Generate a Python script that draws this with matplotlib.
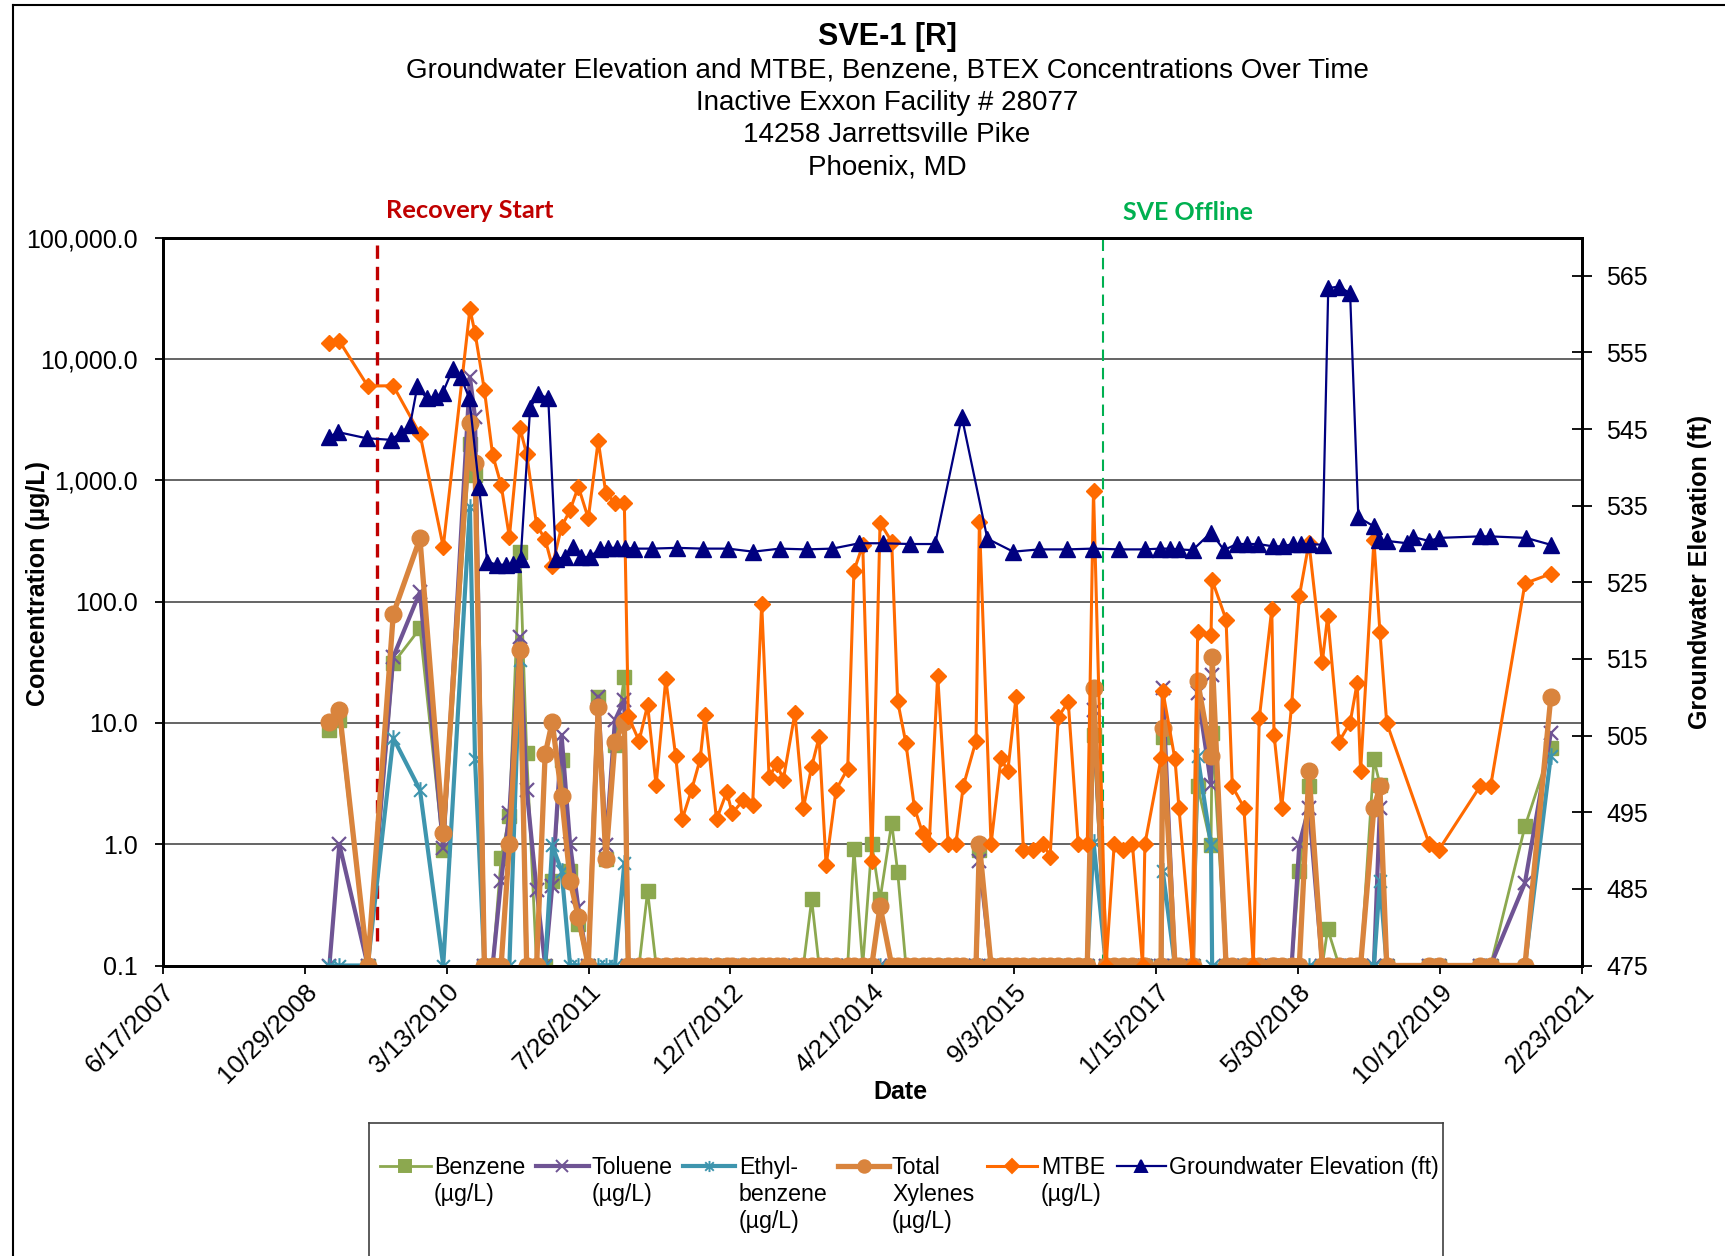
import matplotlib
matplotlib.use('Agg')
import matplotlib.pyplot as plt
import matplotlib.dates as mdates
from matplotlib.path import Path
from matplotlib.lines import Line2D
from matplotlib.ticker import FixedLocator, FuncFormatter
import pandas as pd

plt.rcParams['font.family'] = ['Liberation Sans', 'DejaVu Sans']

# sampling dates shared by the BTEX / MTBE results
sample_dates = [
    '2009-01-24', '2009-02-28', '2009-06-08', '2009-09-06', '2009-12-09', '2010-03-01', '2010-06-03', '2010-06-21', '2010-07-24', '2010-08-22',
    '2010-09-21', '2010-10-20', '2010-11-26', '2010-12-20', '2011-01-24', '2011-02-23', '2011-03-20', '2011-04-22', '2011-05-22', '2011-06-20',
    '2011-07-25', '2011-08-29', '2011-09-25', '2011-10-27', '2011-11-29', '2011-12-13', '2012-01-20', '2012-02-19', '2012-03-20', '2012-04-23',
    '2012-05-28', '2012-06-20', '2012-07-23', '2012-08-22', '2012-09-08', '2012-10-19', '2012-11-24', '2012-12-13', '2013-01-21', '2013-02-23',
    '2013-03-27', '2013-04-22', '2013-05-19', '2013-06-11', '2013-07-22', '2013-08-21', '2013-09-19', '2013-10-15', '2013-11-09', '2013-12-14',
    '2014-01-24', '2014-02-15', '2014-03-18', '2014-04-19', '2014-05-18', '2014-06-28', '2014-07-19', '2014-08-17', '2014-09-16', '2014-10-15',
    '2014-11-07', '2014-12-07', '2015-01-13', '2015-02-09', '2015-03-07', '2015-04-21', '2015-05-03', '2015-06-13', '2015-07-18', '2015-08-11',
    '2015-09-09', '2015-10-05', '2015-11-07', '2015-12-14', '2016-01-07', '2016-02-05', '2016-03-11', '2016-04-15', '2016-05-17', '2016-06-08',
    '2016-07-22', '2016-08-20', '2016-09-19', '2016-10-23', '2016-11-28', '2016-12-06', '2017-02-01', '2017-02-07', '2017-03-22', '2017-04-05',
    '2017-05-23', '2017-06-10', '2017-07-27', '2017-07-31', '2017-09-18', '2017-10-10', '2017-11-20', '2017-12-23', '2018-01-13', '2018-02-26',
    '2018-03-06', '2018-04-02', '2018-05-07', '2018-06-03', '2018-07-07', '2018-08-23', '2018-09-11', '2018-10-21', '2018-11-29', '2018-12-24',
    '2019-01-05', '2019-02-21', '2019-03-14', '2019-04-07', '2019-09-04', '2019-10-08', '2020-03-01', '2020-04-07', '2020-08-06', '2020-11-05',
]

benzene = [
    8.7, 10.5, 0.1, 31, 60, 0.9, 2000, 1100, 0.1, 0.1,
    0.77, 1.7, 257, 5.6, 0.1, 0.1, 0.5, 4.9, 0.6, 0.22,
    0.1, 16.4, 0.76, 6.6, 24, 0.1, 0.1, 0.41, 0.1, 0.1,
    0.1, 0.1, 0.1, 0.1, 0.1, 0.1, 0.1, 0.1, 0.1, 0.1,
    0.1, 0.1, 0.1, 0.1, 0.1, 0.1, 0.35, 0.1, 0.1, 0.1,
    0.1, 0.91, 0.1, 1.0, 0.35, 1.5, 0.59, 0.1, 0.1, 0.1,
    0.1, 0.1, 0.1, 0.1, 0.1, 0.1, 0.9, 0.1, 0.1, 0.1,
    0.1, 0.1, 0.1, 0.1, 0.1, 0.1, 0.1, 0.1, 0.1, 7.9,
    0.1, 0.1, 0.1, 0.1, 0.1, 0.1, 0.1, 7.7, 0.1, 0.1,
    0.1, 3.0, 0.98, 8.2, 0.1, 0.1, 0.1, 0.1, 0.1, 0.1,
    0.1, 0.1, 0.1, 0.6, 3.0, 0.1, 0.2, 0.1, 0.1, 0.1,
    0.1, 5.0, 3.1, 0.1, 0.1, 0.1, 0.1, 0.1, 1.4, 6.2,
]

toluene = [
    0.1, 1.0, 0.1, 35, 120, 0.93, 7100, 3300, 0.1, 0.1,
    0.5, 1.8, 51, 2.8, 0.42, 0.1, 0.45, 7.9, 1.0, 0.3,
    0.1, 16.4, 0.99, 10.5, 15.4, 0.1, 0.1, 0.1, 0.1, 0.1,
    0.1, 0.1, 0.1, 0.1, 0.1, 0.1, 0.1, 0.1, 0.1, 0.1,
    0.1, 0.1, 0.1, 0.1, 0.1, 0.1, 0.1, 0.1, 0.1, 0.1,
    0.1, 0.1, 0.1, 0.1, 0.1, 0.1, 0.1, 0.1, 0.1, 0.1,
    0.1, 0.1, 0.1, 0.1, 0.1, 0.1, 0.72, 0.1, 0.1, 0.1,
    0.1, 0.1, 0.1, 0.1, 0.1, 0.1, 0.1, 0.1, 0.1, 12.8,
    0.1, 0.1, 0.1, 0.1, 0.1, 0.1, 0.1, 19.3, 0.1, 0.1,
    0.1, 17.5, 3.1, 25, 0.1, 0.1, 0.1, 0.1, 0.1, 0.1,
    0.1, 0.1, 0.1, 1.0, 2.0, 0.1, 0.1, 0.1, 0.1, 0.1,
    0.1, 0.1, 2.0, 0.1, 0.1, 0.1, 0.1, 0.1, 0.48, 8.2,
]

ethylbenzene = [
    0.1, 0.1, 0.1, 7.5, 2.8, 0.1, 600, 5, 0.1, 0.1,
    0.1, 0.1, 33, 0.1, 0.1, 0.1, 0.98, 0.6, 0.1, 0.1,
    0.1, 0.1, 0.1, 0.1, 0.7, 0.1, 0.1, 0.1, 0.1, 0.1,
    0.1, 0.1, 0.1, 0.1, 0.1, 0.1, 0.1, 0.1, 0.1, 0.1,
    0.1, 0.1, 0.1, 0.1, 0.1, 0.1, 0.1, 0.1, 0.1, 0.1,
    0.1, 0.1, 0.1, 0.1, 0.1, 0.1, 0.1, 0.1, 0.1, 0.1,
    0.1, 0.1, 0.1, 0.1, 0.1, 0.1, 0.1, 0.1, 0.1, 0.1,
    0.1, 0.1, 0.1, 0.1, 0.1, 0.1, 0.1, 0.1, 0.1, 1.05,
    0.1, 0.1, 0.1, 0.1, 0.1, 0.1, 0.1, 0.6, 0.1, 0.1,
    0.1, 5.3, 0.98, 0.1, 0.1, 0.1, 0.1, 0.1, 0.1, 0.1,
    0.1, 0.1, 0.1, 0.1, 0.1, 0.1, 0.1, 0.1, 0.1, 0.1,
    0.1, 0.1, 0.5, 0.1, 0.1, 0.1, 0.1, 0.1, 0.1, 5.3,
]

xylenes = [
    10.2, 12.8, 0.1, 79, 331, 1.23, 2960, 1380, 0.1, 0.1,
    0.1, 1.0, 40, 0.1, 0.1, 5.5, 10.2, 2.5, 0.5, 0.25,
    0.1, 13.4, 0.75, 7.0, 10.2, 0.1, 0.1, 0.1, 0.1, 0.1,
    0.1, 0.1, 0.1, 0.1, 0.1, 0.1, 0.1, 0.1, 0.1, 0.1,
    0.1, 0.1, 0.1, 0.1, 0.1, 0.1, 0.1, 0.1, 0.1, 0.1,
    0.1, 0.1, 0.1, 0.1, 0.31, 0.1, 0.1, 0.1, 0.1, 0.1,
    0.1, 0.1, 0.1, 0.1, 0.1, 0.1, 1.0, 0.1, 0.1, 0.1,
    0.1, 0.1, 0.1, 0.1, 0.1, 0.1, 0.1, 0.1, 0.1, 19.3,
    0.1, 0.1, 0.1, 0.1, 0.1, 0.1, 0.1, 9.0, 0.1, 0.1,
    0.1, 22, 5.3, 35, 0.1, 0.1, 0.1, 0.1, 0.1, 0.1,
    0.1, 0.1, 0.1, 0.1, 4.0, 0.1, 0.1, 0.1, 0.1, 0.1,
    0.1, 2.0, 3.0, 0.1, 0.1, 0.1, 0.1, 0.1, 0.1, 16.2,
]

mtbe = [
    13600, 14000, 5970, 6000, 2400, 282, 25700, 16400, 5530, 1620,
    912, 341, 2700, 1640, 427, 326, 196, 414, 567, 884,
    485, 2110, 780, 653, 645, 11.3, 7.1, 14, 3.07, 22.9,
    5.3, 1.61, 2.8, 5.0, 11.6, 1.6, 2.7, 1.8, 2.3, 2.1,
    95.5, 3.56, 4.6, 3.4, 12, 2.0, 4.35, 7.6, 0.67, 2.8,
    4.2, 179, 292, 0.73, 446, 311, 15.1, 6.8, 2.0, 1.23,
    1.0, 24.5, 1.0, 1.0, 3.0, 7.1, 455, 1.0, 5.1, 4.0,
    16.2, 0.9, 0.9, 1.0, 0.79, 11.2, 14.9, 1.0, 1.0, 820,
    0.1, 1.0, 0.9, 1.0, 0.1, 1.0, 5.1, 18.4, 5.0, 2.0,
    0.1, 56, 53, 150, 71, 3.0, 2.0, 0.1, 10.9, 86,
    8.0, 2.0, 14, 110, 305, 31.6, 76, 7.0, 10, 21.4,
    4.0, 320, 56, 10, 1.0, 0.9, 3.0, 3.0, 141, 169,
]

# groundwater gauging
gw_dates = [
    '2009-01-24', '2009-02-24', '2009-06-04', '2009-08-28', '2009-10-03', '2009-11-04', '2009-11-30', '2010-01-02', '2010-01-31', '2010-02-27',
    '2010-04-03', '2010-05-02', '2010-06-01', '2010-07-05', '2010-08-03', '2010-09-05', '2010-10-07', '2010-11-03', '2010-11-29', '2011-01-01',
    '2011-01-28', '2011-03-06', '2011-04-02', '2011-05-04', '2011-05-31', '2011-06-29', '2011-07-31', '2011-09-04', '2011-10-04', '2011-11-02',
    '2011-12-01', '2012-01-03', '2012-03-04', '2012-06-01', '2012-09-02', '2012-11-29', '2013-02-25', '2013-05-30', '2013-09-01', '2013-12-01',
    '2014-03-06', '2014-05-29', '2014-08-31', '2014-11-28', '2015-03-02', '2015-05-31', '2015-08-30', '2015-11-29', '2016-03-06', '2016-06-05',
    '2016-09-07', '2016-12-06', '2017-01-28', '2017-03-04', '2017-04-06', '2017-05-23', '2017-07-27', '2017-09-11', '2017-10-25', '2017-11-30',
    '2018-01-10', '2018-03-01', '2018-04-05', '2018-05-11', '2018-06-09', '2018-07-11', '2018-08-24', '2018-09-13', '2018-10-22', '2018-11-29',
    '2018-12-28', '2019-02-21', '2019-03-12', '2019-04-09', '2019-06-18', '2019-07-10', '2019-09-04', '2019-10-09', '2020-03-01', '2020-04-05',
    '2020-08-10', '2020-11-05',
]
gw_elev = [
    544.0, 544.6, 543.8, 543.6, 544.5, 545.5, 550.6, 549.0, 549.2, 549.7,
    552.8, 551.8, 549.0, 537.5, 527.7, 527.3, 527.3, 527.4, 528.1, 547.7,
    549.6, 549.0, 528.0, 528.3, 529.6, 528.3, 528.3, 529.4, 529.5, 529.5,
    529.5, 529.4, 529.4, 529.5, 529.4, 529.4, 529.0, 529.4, 529.3, 529.4,
    530.1, 530.1, 530.0, 530.0, 546.6, 530.7, 529.0, 529.3, 529.3, 529.4,
    529.3, 529.3, 529.4, 529.4, 529.3, 529.2, 531.5, 529.2, 530.0, 530.0,
    530.0, 529.7, 529.7, 530.0, 530.0, 530.0, 529.9, 563.4, 563.6, 562.7,
    533.5, 532.3, 530.5, 530.4, 530.1, 530.9, 530.4, 530.8, 531.0, 531.0,
    530.8, 529.9,
]

recovery_start = '2009-07-11'
sve_offline = '2016-07-13'
x_start = '2007-06-17'
x_end = '2021-02-23'

# Excel-style asterisk marker (x with a vertical bar)
star = Path([(-1, -1), (1, 1), (-1, 1), (1, -1), (0, -1.3), (0, 1.3)],
            [Path.MOVETO, Path.LINETO, Path.MOVETO, Path.LINETO, Path.MOVETO, Path.LINETO])

c_benz = '#8CA84F'
c_tol = '#6F5494'
c_eth = '#3E95AE'
c_xyl = '#D9843D'
c_mtbe = '#FF6A00'
c_gw = '#000080'

W, H = 1725, 1256
fig = plt.figure(figsize=(W / 100, H / 100), dpi=100)
ax = fig.add_axes([162.8 / W, 1 - 965.5 / H, (1582 - 162.8) / W, (965.5 - 237.5) / H])
ax2 = ax.twinx()

sd = pd.to_datetime(sample_dates)
gd = pd.to_datetime(gw_dates)

ax.plot(sd, benzene, color=c_benz, lw=2.0, marker='s', ms=10, mec=c_benz, mfc=c_benz, zorder=3)
ax.plot(sd, toluene, color=c_tol, lw=3.0, marker='x', ms=10, mew=1.6, mec=c_tol, zorder=4)
ax.plot(sd, ethylbenzene, color=c_eth, lw=3.0, marker=star, ms=12, mew=1.5, mec=c_eth, zorder=5)
ax.plot(sd, xylenes, color=c_xyl, lw=3.8, marker='o', ms=12, mec=c_xyl, mfc=c_xyl, zorder=6)
ax.plot(sd, mtbe, color=c_mtbe, lw=2.2, marker='D', ms=8, mec=c_mtbe, mfc=c_mtbe, zorder=7)
ax2.plot(gd, gw_elev, color=c_gw, lw=1.6, marker='^', ms=11, mec=c_gw, mfc=c_gw, zorder=8)

# event markers
rs = pd.Timestamp(recovery_start)
so = pd.Timestamp(sve_offline)
ax.plot([rs, rs], [0.16, 1e5], color='#C00000', lw=2.4, dashes=(4, 2.4), zorder=2)
ax.plot([so, so], [0.1, 1e5], color='#00B050', lw=1.5, dashes=(5.5, 3.3), zorder=2)

ax.set_yscale('log')
ax.set_ylim(0.1, 100000)
ax.set_xlim(pd.Timestamp(x_start), pd.Timestamp(x_end))
ax2.set_ylim(475, 570)

dec = [0.1, 1, 10, 100, 1000, 10000, 100000]
ax.yaxis.set_major_locator(FixedLocator(dec))
ax.yaxis.set_minor_locator(FixedLocator([]))
ax.yaxis.set_major_formatter(FuncFormatter(lambda v, p: f'{v:,.1f}'))
ax.grid(axis='y', color='#4a4a4a', lw=1.2)
ax.set_axisbelow(True)

xt = pd.date_range(x_start, periods=11, freq='500D')
ax.xaxis.set_major_locator(FixedLocator(mdates.date2num(xt)))
ax.xaxis.set_major_formatter(FuncFormatter(
    lambda v, p: (lambda d: f'{d.month}/{d.day}/{d.year}')(mdates.num2date(v))))

ax2.yaxis.set_major_locator(FixedLocator(list(range(475, 570, 10))))

for a in (ax, ax2):
    for s in a.spines.values():
        s.set_linewidth(2)
        s.set_color('black')
ax.tick_params(axis='y', direction='out', length=6, width=1.3, labelsize=18, pad=12)
ax.tick_params(axis='x', direction='out', length=6, width=1.3, labelsize=18.5, pad=4)
ax2.tick_params(axis='y', direction='inout', length=15, width=1.3, labelsize=18, pad=10)
for lab in ax.get_xticklabels():
    lab.set_rotation(45)
    lab.set_ha('right')
    lab.set_rotation_mode('anchor')

fig.text(887 / W, 1 - 37 / H, 'SVE-1 [R]', ha='center', va='center', fontsize=22, fontweight='bold')
sub = ['Groundwater Elevation and MTBE, Benzene, BTEX Concentrations Over Time',
       'Inactive Exxon Facility # 28077', '14258 Jarrettsville Pike', 'Phoenix, MD']
for i, t in enumerate(sub):
    fig.text(887 / W, 1 - (70.5 + 32.2 * i) / H, t, ha='center', va='center', fontsize=20)

fig.text(38.5 / W, 1 - 584 / H, 'Concentration (µg/L)', rotation=90, ha='center', va='center',
         fontsize=18, fontweight='bold')
fig.text(1700 / W, 1 - 572 / H, 'Groundwater Elevation (ft)', rotation=90, ha='center', va='center',
         fontsize=18, fontweight='bold')
fig.text(900 / W, 1 - 1092 / H, 'Date', ha='center', va='center', fontsize=18, fontweight='bold')

fig.text(470 / W, 1 - 211 / H, 'Recovery Start', ha='center', va='center', fontsize=18.3,
         fontweight='bold', color='#C00000', family=['Lato', 'DejaVu Sans'])
fig.text(1188 / W, 1 - 213 / H, 'SVE Offline', ha='center', va='center', fontsize=18,
         fontweight='bold', color='#00B050', family=['Lato', 'DejaVu Sans'])

# outer chart border (partly cropped in the original)
fig.add_artist(Line2D([13 / W, 13 / W], [0, 1 - 4.5 / H], transform=fig.transFigure, color='black', lw=1.5))
fig.add_artist(Line2D([13 / W, 1], [1 - 4.5 / H, 1 - 4.5 / H], transform=fig.transFigure, color='black', lw=1.5))

# legend box
lx0, lx1, ly0 = 368.5, 1443, 1123
for xs, ys in (([lx0, lx0], [ly0, H + 5]), ([lx0, lx1], [ly0, ly0]), ([lx1, lx1], [ly0, H + 5])):
    fig.add_artist(Line2D([x / W for x in xs], [1 - y / H for y in ys], transform=fig.transFigure,
                          color='#404040', lw=1.2))

legend_items = [
    ('Benzene\n(µg/L)', c_benz, 's', 2.0, 8, 379.5, 431, 434),
    ('Toluene\n(µg/L)', c_tol, 'x', 3.0, 8, 535.5, 589, 592),
    ('Ethyl-\nbenzene\n(µg/L)', c_eth, star, 3.0, 8, 683, 735, 739),
    ('Total\nXylenes\n(µg/L)', c_xyl, 'o', 3.8, 9, 838, 889, 892),
    ('MTBE\n(µg/L)', c_mtbe, 'D', 2.2, 7, 987, 1037, 1040.7),
    ('Groundwater Elevation (ft)', c_gw, '^', 1.6, 9, 1116.6, 1166, 1169.4),
]
ly = 1166
for label, col, mk, lw, ms, hx0, hx1, tx in legend_items:
    yf = 1 - ly / H
    fig.add_artist(Line2D([hx0 / W, hx1 / W], [yf, yf], transform=fig.transFigure, color=col, lw=lw))
    fig.add_artist(Line2D([(hx0 + hx1) / 2 / W], [yf], transform=fig.transFigure, color=col,
                          marker=mk, ms=ms, mec=col, mfc=col, mew=1.4, lw=0))
    fig.text(tx / W, 1 - (ly - 10) / H, label, ha='left', va='top', fontsize=16.7, linespacing=1.23)

fig.savefig('out.png', dpi=100)
